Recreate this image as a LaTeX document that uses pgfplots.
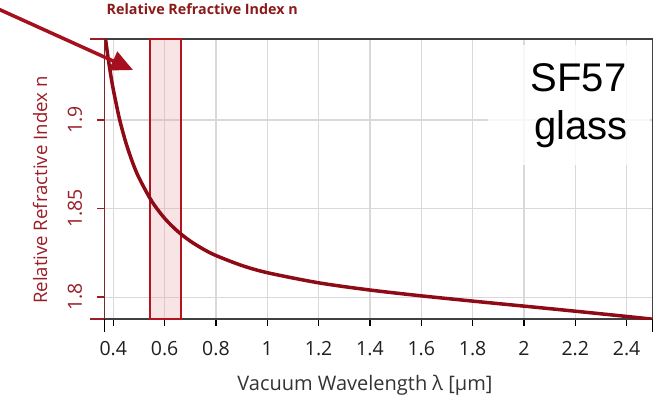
\documentclass[border=0pt]{standalone}
\usepackage{fontspec}
\setmainfont{Open Sans}
\newfontfamily\arialf{Liberation Sans}
\usepackage{pgfplots}
\pgfplotsset{compat=1.18}
\usetikzlibrary{arrows.meta}
\definecolor{curvecol}{HTML}{8E0B16}
\definecolor{labred}{HTML}{9A1E28}
\definecolor{titlered}{HTML}{8B1A1A}
\definecolor{rectborder}{HTML}{B3141F}
\definecolor{rectfill}{HTML}{E9A3AA}
\definecolor{arrowcol}{HTML}{A50F1E}
\begin{document}
\begin{tikzpicture}
\path[use as bounding box] (-104.3bp,-83bp) rectangle (556.7bp,319bp);
\begin{axis}[
  scale only axis, width=548bp, height=280bp,
  xmin=0.365, xmax=2.5, ymin=1.7877, ymax=1.9457,
  xtick={0.4,0.6,0.8,1,1.2,1.4,1.6,1.8,2,2.2,2.4},
  ytick={1.8,1.85,1.9},
  xtick pos=left, ytick pos=left,
  tick align=outside,
  major tick length=7bp,
  grid=major, grid style={draw=black!15, line width=1.2bp},
  axis line style={draw=black!75, line width=1.3bp},
  every tick label/.append style={font=\fontsize{19.5bp}{20bp}\selectfont, inner sep=0pt},
  /pgf/number format/assume math mode=true,
  xticklabel style={text=black!88},
  yticklabel style={rotate=90, anchor=south, text=labred},
  xticklabel shift=15bp,
  yticklabel shift=15bp,
  x tick style={black, line width=1.5bp},
  y tick style={labred, line width=1.5bp},
  extra x ticks={0.365,2.5}, extra x tick labels={},
  extra x tick style={grid=none, major tick length=13bp, tick style={black, line width=2bp}},
  extra y ticks={1.7877,1.9457}, extra y tick labels={},
  extra y tick style={grid=none, major tick length=14bp, tick style={labred, line width=2bp}},
  title={Relative Refractive Index n},
  title style={at={(axis description cs:-0.002,1)}, anchor=base west, yshift=19bp,
    font=\fontsize{14.3bp}{15bp}\selectfont\bfseries, text=titlered},
  xlabel={Vacuum Wavelength λ [µm]},
  xlabel style={at={(axis description cs:0.4757,-0.238)}, anchor=center,
    font=\fontsize{20bp}{21bp}\selectfont, text=black!80},
  ylabel={Relative Refractive Index n},
  ylabel style={at={(axis description cs:-0.1173,0.46)}, anchor=center,
    font=\fontsize{18.6bp}{20bp}\selectfont, text=labred},
]
% highlighted band
\addplot[draw=rectborder, line width=2bp, fill=rectfill, fill opacity=0.3]
  coordinates {(0.543,1.7877) (0.664,1.7877) (0.664,1.9457) (0.543,1.9457)} -- cycle;
% refractive index curve
\addplot[curvecol, line width=3.5bp, smooth] table {
x n
0.37 1.94546
0.38 1.93484
0.39 1.92549
0.40 1.91721
0.42 1.90317
0.43 1.89717
0.45 1.88677
0.475 1.87612
0.50 1.86743
0.55 1.85415
0.60 1.84453
0.65 1.83729
0.70 1.83166
0.75 1.82718
0.80 1.82352
0.90 1.81794
1.00 1.81384
1.20 1.80812
1.40 1.80405
1.60 1.80076
1.80 1.79780
2.00 1.79497
2.20 1.79210
2.40 1.78914
2.50 1.78760
};
\draw[labred, line width=1.6bp] (rel axis cs:0,0) -- (rel axis cs:0,1);
\end{axis}
% arrow
\draw[arrowcol, line width=3.5bp, -{Triangle[length=22bp,width=20bp]}] (-106bp,310bp) -- (28.7bp,249bp);
% SF57 label box
\fill[white, opacity=0.8] (383.7bp,154bp) rectangle (545.7bp,274bp);
\node[anchor=base, inner sep=0pt, font=\arialf\fontsize{40bp}{48bp}\selectfont] at (474.2bp,227bp) {SF57};
\node[anchor=base, inner sep=0pt, font=\arialf\fontsize{40bp}{48bp}\selectfont] at (476.7bp,179bp) {glass};
\end{tikzpicture}
\end{document}
